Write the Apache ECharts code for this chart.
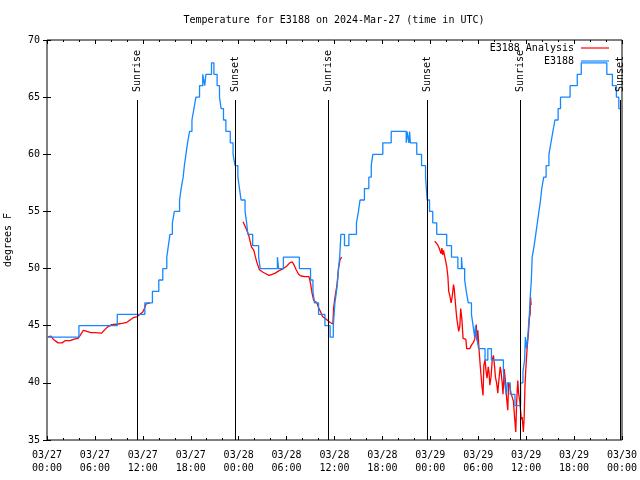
<!DOCTYPE html>
<html>
<head>
<meta charset="utf-8">
<script src="https://cdn.jsdelivr.net/npm/echarts@6/dist/echarts.min.js"></script>
<style>html,body{margin:0;padding:0;background:#fff;}#c{width:640px;height:480px;}</style>
</head>
<body>
<div id="c"></div>
<script>
// ---- data (hours since 2024-03-27 00:00 UTC) ----
const titleText = 'Temperature for E3188 on 2024-Mar-27 (time in UTC)';
const xTickLabels = ['03/27\n00:00','03/27\n06:00','03/27\n12:00','03/27\n18:00','03/28\n00:00','03/28\n06:00','03/28\n12:00','03/28\n18:00','03/29\n00:00','03/29\n06:00','03/29\n12:00','03/29\n18:00','03/30\n00:00'];
const yTickValues = [35,40,45,50,55,60,65,70];

const obsHours = [0.05,4.0,8.8,12.25,13.2,14.0,14.5,15.0,15.2,15.4,15.7,15.95,16.6,16.8,17.05,17.2,17.4,17.6,17.85,18.15,18.4,18.65,19.1,19.5,19.75,19.9,20.6,20.9,21.3,21.6,21.8,22.1,22.4,22.95,23.3,23.55,23.9,24.1,24.3,24.8,25.0,25.15,25.75,26.5,26.7,28.85,29.0,29.6,31.6,33.0,33.3,33.5,34.0,34.8,35.45,35.85,35.95,36.05,36.25,36.4,36.5,36.65,36.8,37.25,37.8,38.75,39.0,39.2,39.75,40.3,40.6,40.8,42.05,43.1,44.98,45.08,45.3,45.4,45.5,46.3,46.9,47.4,47.5,47.6,47.9,48.3,48.8,50.05,50.65,51.45,51.9,52.0,52.3,52.5,52.75,53.15,53.35,53.55,53.65,53.8,54.05,54.85,55.2,55.65,57.15,57.3,57.5,57.65,58.0,58.6,59.3,59.6,59.8,59.9,60.05,60.2,60.3,60.4,60.55,60.65,60.75,61.0,61.2,61.4,61.6,61.8,61.95,62.2,62.5,62.85,63.1,63.35,63.6,64.0,64.3,65.5,66.4,66.9,70.1,70.8,71.3,71.6,71.75];
const obsTemps = [44,45,46,47,48,49,50,51,52,53,54,55,56,57,58,59,60,61,62,63,64,65,66,67,66,67,68,67,66,65,64,63,62,61,60,59,58,57,56,55,54,53,52,51,50,51,50,51,50,49,48,47,46,45,44,45,46,47,48,49,50,51,53,52,53,54,55,56,57,58,59,60,61,62,61,62,61,62,61,60,59,58,57,56,55,54,53,52,51,50,51,50,49,48,47,46,45,44,45,44,43,42,43,42,41,40,39,40,39,38,40,41,42,44,43,44,45,46,48,49,51,52,53,54,55,56,57,58,59,60,61,62,63,64,65,66,67,68,67,66,65,64,64];

const anaHours = [0.1,0.5,0.8,1.4,1.9,2.3,2.9,3.5,3.9,4.2,4.55,5.0,5.5,6.0,6.85,7.3,7.6,8.1,8.9,9.4,10.0,10.4,10.8,11.3,11.65,12.0,12.2,12.4,12.6,12.9,
  18.0,
  24.55,25.0,25.3,25.6,25.9,26.1,26.3,26.6,27.0,27.4,27.8,28.2,28.6,29.0,29.6,30.0,30.4,30.7,30.95,31.2,31.5,31.8,32.3,32.8,33.0,33.2,33.4,33.8,34.0,34.2,34.5,34.9,35.1,35.4,35.6,35.8,35.88,36.06,36.3,36.5,36.7,36.9,
  42.0,
  48.55,48.75,48.9,49.1,49.35,49.45,49.55,49.65,49.85,50.05,50.2,50.3,50.45,50.6,50.75,50.9,51.0,51.1,51.3,51.45,51.55,51.7,51.8,51.95,52.1,52.3,52.45,52.55,52.75,52.95,53.15,53.35,53.55,53.65,53.75,53.85,53.95,54.1,54.25,54.45,54.6,54.7,54.85,54.95,55.1,55.25,55.35,55.45,55.6,55.75,55.9,56.05,56.15,56.3,56.45,56.55,56.75,56.85,57.0,57.1,57.25,57.4,57.55,57.7,57.8,57.95,58.1,58.25,58.4,58.55,58.7,58.8,58.95,59.05,59.2,59.3,59.4,59.5,59.65,59.75,59.85,59.95,60.05,60.15,60.3,60.4,60.5,60.55,60.62];
const anaTemps = [44.0,44.1,43.8,43.5,43.5,43.7,43.7,43.85,43.9,44.2,44.6,44.5,44.4,44.4,44.35,44.7,44.9,45.1,45.15,45.2,45.3,45.5,45.7,45.8,46.0,46.2,46.5,46.9,47.0,47.0,
  null,
  54.1,53.4,52.8,51.9,51.6,51.0,50.5,49.9,49.7,49.55,49.4,49.5,49.6,49.8,50.0,50.2,50.5,50.6,50.3,49.9,49.5,49.35,49.3,49.3,48.7,47.8,47.2,47.0,46.6,46.3,45.8,45.6,45.5,45.3,45.2,45.15,46.5,47.5,48.5,50.0,50.8,51.0,
  null,
  52.4,52.3,52.1,51.8,51.3,51.8,51.2,51.6,50.9,50.2,49.3,48.0,47.6,47.0,47.6,48.6,48.2,47.3,45.7,45.6,44.5,45.0,46.5,45.6,43.9,43.9,43.8,43.0,42.95,43.0,43.3,43.5,43.8,44.3,45.1,43.7,44.6,42.9,41.5,39.8,38.9,41.5,42.0,41.2,40.4,41.4,40.9,39.8,40.5,42.0,42.4,41.4,40.5,40.0,39.1,40.0,41.4,41.0,40.0,39.0,41.2,40.2,38.7,37.6,40.0,39.7,39.1,39.2,38.4,37.0,35.7,38.2,40.2,39.1,38.4,37.6,36.8,37.0,35.7,37.0,39.7,41.1,42.3,43.3,44.5,45.7,46.0,47.5,46.8];

const sunHours = [11.3, 23.57, 35.23, 47.58, 59.23, 71.75];
const sunLabels = ['Sunrise','Sunset','Sunrise','Sunset','Sunrise','Sunset'];
const sunLineTop = 64.75;
const sunLabelBase = 65.45;

// ---- chart ----
const FONT = '"DejaVu Sans Mono", "Liberation Mono", monospace';
const zip = (a, b) => a.map((v, i) => [v, b[i]]);
const chart = echarts.init(document.getElementById('c'), null, {renderer: 'canvas'});
const tickCommon = {show: true, inside: true, length: 4, lineStyle: {color: '#000', width: 1}};
const minorCommon = {show: true, splitNumber: 3, length: 2, lineStyle: {color: '#000', width: 1}};

chart.setOption({
  animation: false,
  backgroundColor: '#fff',
  title: {
    text: titleText, left: 334, top: 15, textAlign: 'center', padding: 0,
    textStyle: {fontFamily: FONT, fontSize: 10, fontWeight: 'normal', color: '#000'}
  },
  legend: [
    {data: ['E3188 Analysis'], right: 31, top: 43, padding: 0, align: 'right', icon: 'rect',
     itemWidth: 28, itemHeight: 1.2, itemGap: 0,
     textStyle: {fontFamily: FONT, fontSize: 10, color: '#000', padding: [0, 2, 0, 0]}},
    {data: ['E3188'], right: 31, top: 56, padding: 0, align: 'right', icon: 'rect',
     itemWidth: 28, itemHeight: 1.2, itemGap: 0,
     textStyle: {fontFamily: FONT, fontSize: 10, color: '#000', padding: [0, 2, 0, 0]}}
  ],
  grid: {left: 47, right: 18, top: 40, bottom: 40, containLabel: false, outerBoundsMode: 'none',
         show: true, borderColor: '#000', borderWidth: 1, backgroundColor: 'transparent'},
  xAxis: [
    {type: 'value', min: 0, max: 72, interval: 6, position: 'bottom',
     axisLine: {show: false}, splitLine: {show: false},
     axisTick: tickCommon, minorTick: minorCommon,
     axisLabel: {fontFamily: FONT, fontSize: 10, color: '#000', lineHeight: 13, margin: 9,
       formatter: v => xTickLabels[Math.round(v / 6)] || ''}},
    {type: 'value', min: 0, max: 72, interval: 6, position: 'top',
     axisLine: {show: false}, splitLine: {show: false},
     axisTick: tickCommon, minorTick: minorCommon, axisLabel: {show: false}}
  ],
  yAxis: [
    {type: 'value', min: yTickValues[0], max: yTickValues[yTickValues.length - 1], interval: 5, position: 'left',
     name: 'degrees F', nameLocation: 'middle', nameRotate: 90, nameGap: 34,
     nameTextStyle: {fontFamily: FONT, fontSize: 10, color: '#000'},
     axisLine: {show: false}, splitLine: {show: false}, axisTick: tickCommon,
     axisLabel: {fontFamily: FONT, fontSize: 10, color: '#000', margin: 7}},
    {type: 'value', min: 35, max: 70, interval: 5, position: 'right',
     axisLine: {show: false}, splitLine: {show: false}, axisTick: tickCommon, axisLabel: {show: false}}
  ],
  series: [
    {name: 'E3188 Analysis', type: 'line', data: zip(anaHours, anaTemps), connectNulls: false,
     symbol: 'none', color: '#ff0000', lineStyle: {color: '#ff0000', width: 1.3}, z: 3},
    {name: 'E3188', type: 'line', data: zip(obsHours, obsTemps), step: 'end',
     symbol: 'none', color: '#1588ff', lineStyle: {color: '#1588ff', width: 1.3}, z: 4},
    {name: 'sun', type: 'custom', clip: false, z: 5,
     data: sunHours.map((h, i) => [h, i]),
     renderItem: function (params, api) {
       const h = api.value(0);
       const p0 = api.coord([h, 35]);
       const p1 = api.coord([h, sunLineTop]);
       const p2 = api.coord([h, sunLabelBase]);
       return {type: 'group', children: [
         {type: 'line', shape: {x1: Math.round(p0[0]) + 0.5, y1: p0[1], x2: Math.round(p1[0]) + 0.5, y2: p1[1]},
          style: {stroke: '#000', lineWidth: 1}},
         {type: 'text', x: Math.round(p2[0]) + 0.5, y: p2[1], rotation: Math.PI / 2,
          style: {text: sunLabels[params.dataIndex], font: '10px ' + FONT, fill: '#000',
                  textAlign: 'left', textVerticalAlign: 'middle', align: 'left', verticalAlign: 'middle'}}
       ]};
     }}
  ]
});
</script>
</body>
</html>
